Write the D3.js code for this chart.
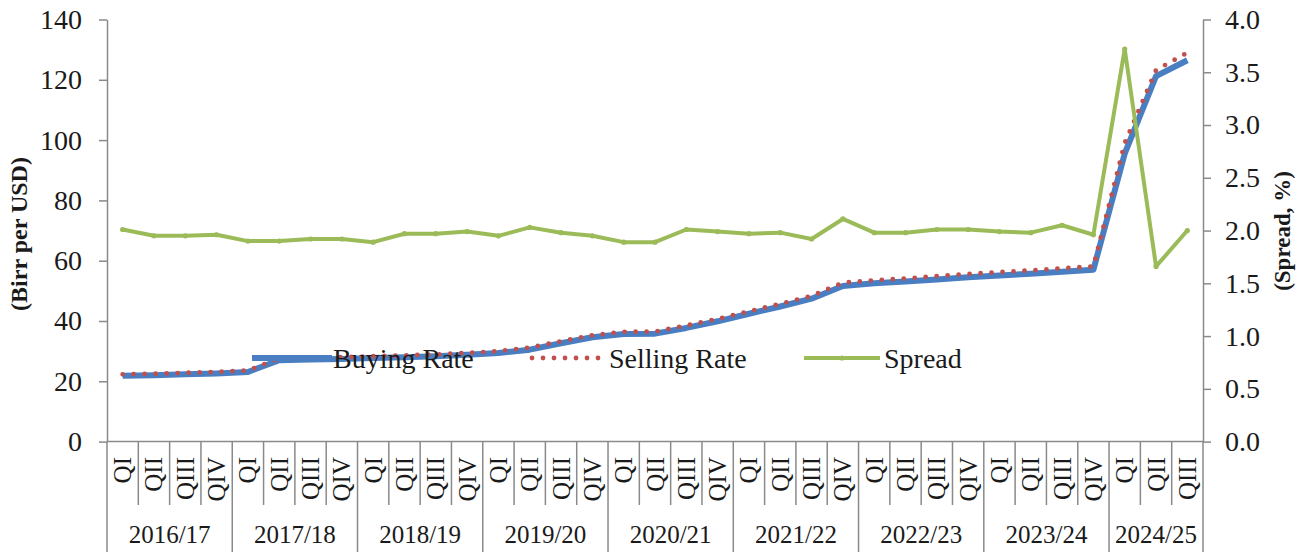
<!DOCTYPE html>
<html>
<head>
<meta charset="utf-8">
<script src="https://cdn.jsdelivr.net/npm/d3@7"></script>
<style>
  body { margin: 0; background: #fff; }
  svg { display: block; }
  svg text { font-family: "Liberation Serif", "Times New Roman", serif; }
</style>
</head>
<body>
<div id="chart"></div>
<script>
// fiscal years and the quarters shown for each
const years = ['2016/17', '2017/18', '2018/19', '2019/20', '2020/21', '2021/22', '2022/23', '2023/24', '2024/25'];
const quarterNames = ['QI', 'QII', 'QIII', 'QIV'];
const quartersPerYear = [4, 4, 4, 4, 4, 4, 4, 4, 3];

// Birr per USD
const buying = [21.8, 22.0, 22.3, 22.6, 23.1, 27.0, 27.2, 27.4, 27.7, 28.0, 28.3, 28.8, 29.4, 30.5, 32.6, 34.6, 35.7, 35.8,
  37.7, 39.9, 42.4, 44.8, 47.4, 51.6, 52.5, 53.1, 53.8, 54.5, 55.1, 55.7, 56.3, 57.0, 95.5, 121.2, 126.5];
const selling = [22.3, 22.5, 22.8, 23.1, 23.6, 27.6, 27.8, 28.0, 28.3, 28.6, 28.9, 29.4, 30.0, 31.2, 33.3, 35.3, 36.4, 36.5,
  38.5, 40.7, 43.2, 45.7, 48.3, 52.7, 53.5, 54.1, 54.9, 55.6, 56.2, 56.8, 57.5, 58.1, 99.0, 123.2, 129.0];
// spread, %
const spread = [2.01, 1.95, 1.95, 1.96, 1.90, 1.90, 1.92, 1.92, 1.89, 1.97, 1.97, 1.99, 1.95, 2.03, 1.98, 1.95, 1.89, 1.89,
  2.01, 1.99, 1.97, 1.98, 1.92, 2.11, 1.98, 1.98, 2.01, 2.01, 1.99, 1.98, 2.05, 1.96, 3.72, 1.66, 2.00];

const leftTicks = [0, 20, 40, 60, 80, 100, 120, 140];
const rightTicks = [0, 0.5, 1, 1.5, 2, 2.5, 3, 3.5, 4];

const categories = [];
years.forEach((y, yi) => {
  for (let q = 0; q < quartersPerYear[yi]; q++) categories.push({ year: y, q: quarterNames[q], key: y + quarterNames[q] });
});

const w = 1309, h = 552;
const plotLeft = 107, plotRight = 1203, plotTop = 19.5, plotBottom = 441.6;
const axisColor = '#8a8a8a';
const textColor = '#1a1a1a';
const serif = '"Liberation Serif", "Times New Roman", serif';

const svg = d3.select('#chart').append('svg')
  .attr('width', w)
  .attr('height', h);

const x = d3.scaleBand()
  .domain(categories.map(d => d.key))
  .range([plotLeft, plotRight])
  .padding(0);
const bw = x.bandwidth();
const cx = i => x(categories[i].key) + bw / 2;

const yL = d3.scaleLinear().domain([0, 140]).range([plotBottom, plotTop]);
const yR = d3.scaleLinear().domain([0, 4]).range([plotBottom, plotTop]);

// left axis
const gL = svg.append('g')
  .attr('transform', 'translate(' + plotLeft + ',0)')
  .call(d3.axisLeft(yL).tickValues(leftTicks).tickSize(8).tickPadding(17).tickSizeOuter(0));
// right axis
const gR = svg.append('g')
  .attr('transform', 'translate(' + plotRight + ',0)')
  .call(d3.axisRight(yR).tickValues(rightTicks).tickSize(8).tickPadding(14).tickSizeOuter(0).tickFormat(d3.format('.1f')));

[gL, gR].forEach(g => {
  g.attr('font-family', serif);
  g.select('.domain').attr('stroke', axisColor).attr('stroke-width', 1.5);
  g.selectAll('.tick line').attr('stroke', axisColor).attr('stroke-width', 1.5);
  g.selectAll('.tick text')
    .attr('fill', textColor)
    .style('font-size', '28px')
    .style('font-family', serif);
});

// category axis with quarter and year separators
const gX = svg.append('g');
gX.append('line')
  .attr('x1', plotLeft).attr('x2', plotRight)
  .attr('y1', plotBottom).attr('y2', plotBottom)
  .attr('stroke', axisColor).attr('stroke-width', 1.5);

let idx = 0;
const yearBounds = [];
years.forEach((yr, yi) => {
  const start = idx;
  idx += quartersPerYear[yi];
  yearBounds.push({ year: yr, x0: x(categories[start].key), x1: x(categories[idx - 1].key) + bw });
});

categories.forEach((d, i) => {
  const xl = x(d.key);
  const isYearStart = yearBounds.some(b => Math.abs(b.x0 - xl) < 0.01);
  gX.append('line')
    .attr('x1', xl).attr('x2', xl)
    .attr('y1', plotBottom).attr('y2', isYearStart ? h : 505)
    .attr('stroke', axisColor).attr('stroke-width', 1.5);
  gX.append('text')
    .attr('transform', 'translate(' + cx(i) + ',457) rotate(-90)')
    .attr('text-anchor', 'end')
    .attr('dy', '0.34em')
    .attr('fill', textColor)
    .style('font-family', serif)
    .style('font-size', '25px')
    .text(d.q);
});
gX.append('line')
  .attr('x1', plotRight).attr('x2', plotRight)
  .attr('y1', plotBottom).attr('y2', h)
  .attr('stroke', axisColor).attr('stroke-width', 1.5);

yearBounds.forEach(b => {
  gX.append('text')
    .attr('x', (b.x0 + b.x1) / 2)
    .attr('y', 543)
    .attr('text-anchor', 'middle')
    .attr('fill', textColor)
    .style('font-family', serif)
    .style('font-size', '25px')
    .text(b.year);
});

// axis titles
svg.append('text')
  .attr('transform', 'translate(19,234) rotate(-90)')
  .attr('text-anchor', 'middle')
  .attr('dy', '0.35em')
  .attr('fill', textColor)
  .style('font-family', serif)
  .style('font-size', '24px')
  .style('font-weight', 'bold')
  .text('(Birr per USD)');
svg.append('text')
  .attr('transform', 'translate(1282,231) rotate(-90)')
  .attr('text-anchor', 'middle')
  .attr('dy', '0.35em')
  .attr('fill', textColor)
  .style('font-family', serif)
  .style('font-size', '23px')
  .style('font-weight', 'bold')
  .text('(Spread, %)');

// series
const blue = '#4a7ec2', red = '#c0504d', green = '#9bbb59';
const lineL = d3.line().x((d, i) => cx(i)).y(d => yL(d));
const lineR = d3.line().x((d, i) => cx(i)).y(d => yR(d));

svg.append('path')
  .datum(buying)
  .attr('d', lineL)
  .attr('fill', 'none')
  .attr('stroke', blue)
  .attr('stroke-width', 6)
  .attr('stroke-linejoin', 'round');

svg.append('path')
  .datum(selling)
  .attr('d', lineL)
  .attr('fill', 'none')
  .attr('stroke', red)
  .attr('stroke-width', 4.8)
  .attr('stroke-linecap', 'round')
  .attr('stroke-dasharray', '0 11');

svg.append('path')
  .datum(spread)
  .attr('d', lineR)
  .attr('fill', 'none')
  .attr('stroke', green)
  .attr('stroke-width', 4)
  .attr('stroke-linejoin', 'round');

svg.selectAll('.spread-dot')
  .data(spread)
  .enter()
  .append('circle')
  .attr('class', 'spread-dot')
  .attr('cx', (d, i) => cx(i))
  .attr('cy', d => yR(d))
  .attr('r', 2.6)
  .attr('fill', green);

// legend
const legendY = 358;
const legendItems = [
  { name: 'Buying Rate', x0: 252, x1: 332, tx: 333, color: blue, width: 6, dash: null },
  { name: 'Selling Rate', x0: 532, x1: 605, tx: 609, color: red, width: 4.8, dash: '0 11' },
  { name: 'Spread', x0: 804, x1: 880, tx: 884, color: green, width: 4, dash: null }
];
legendItems.forEach(it => {
  const ln = svg.append('line')
    .attr('x1', it.x0).attr('x2', it.x1)
    .attr('y1', legendY).attr('y2', legendY)
    .attr('stroke', it.color)
    .attr('stroke-width', it.width)
    .attr('stroke-linecap', it.dash ? 'round' : 'butt');
  if (it.dash) ln.attr('stroke-dasharray', it.dash);
  if (it.name === 'Spread') {
    svg.append('circle')
      .attr('cx', (it.x0 + it.x1) / 2).attr('cy', legendY)
      .attr('r', 2.6).attr('fill', it.color);
  }
  svg.append('text')
    .attr('x', it.tx)
    .attr('y', legendY + 10)
    .attr('fill', textColor)
    .style('font-family', serif)
    .style('font-size', '28px')
    .text(it.name);
});
</script>
</body>
</html>
